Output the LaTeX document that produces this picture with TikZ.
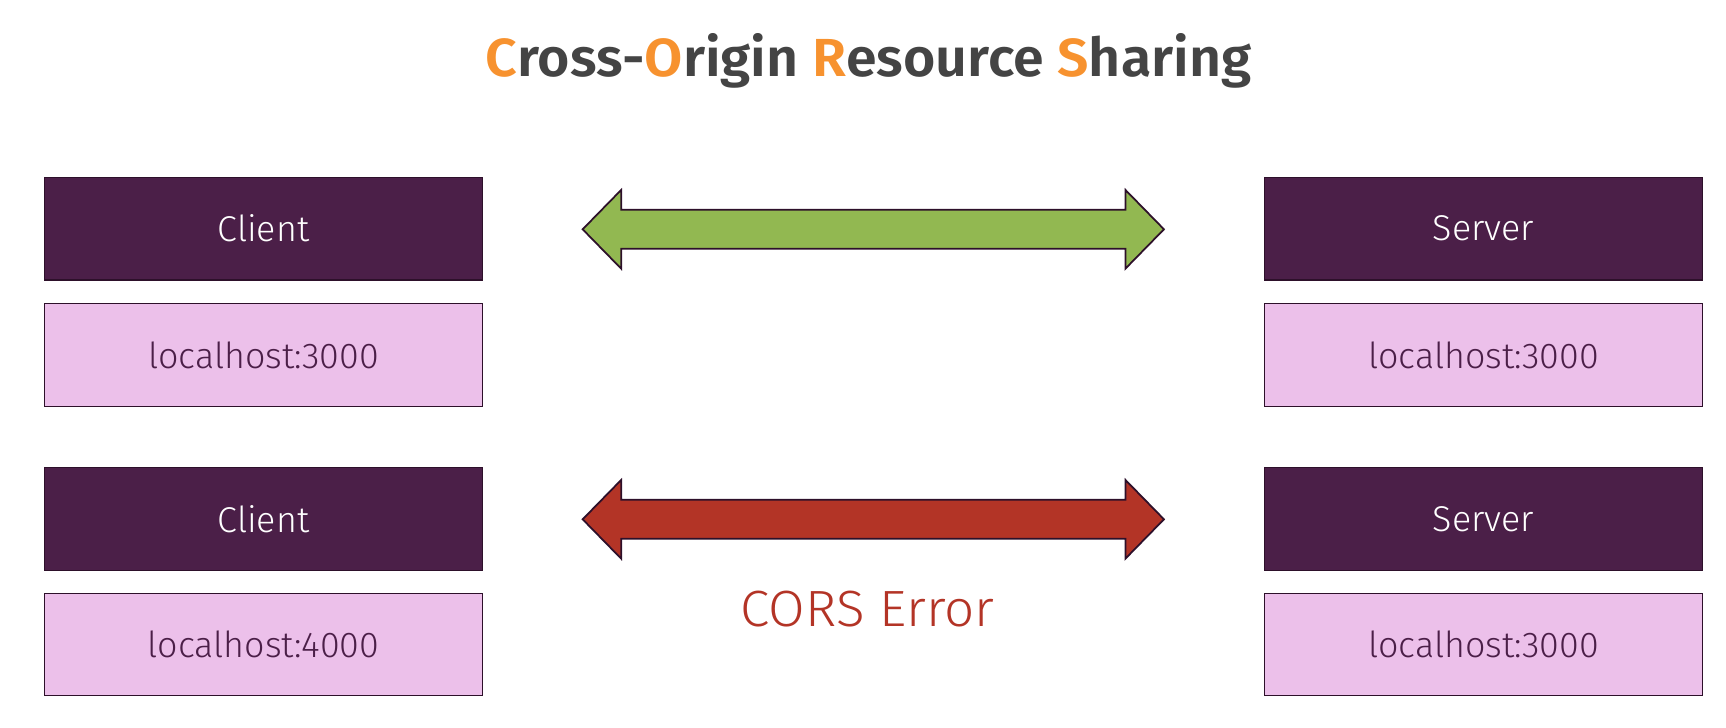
\documentclass[tikz,border=0pt]{standalone}
\usepackage{fontspec}
\setmainfont{Fira Sans Light}[BoldFont={Fira Sans SemiBold}]
\newfontfamily\narrowfont{Fira Sans Light}[FakeStretch=1.04]
\newfontfamily\headfont{Fira Sans SemiBold}[FakeStretch=1.035]
\definecolor{plum}{RGB}{75, 31, 72}
\definecolor{lilac}{RGB}{236, 192, 234}
\definecolor{edge}{RGB}{45, 16, 42}
\definecolor{leaf}{RGB}{146, 184, 81}
\definecolor{brick}{RGB}{179, 52, 38}
\definecolor{ink}{RGB}{68, 68, 68}
\definecolor{amber}{RGB}{247, 146, 47}

\tikzset{
  host/.style={draw=edge, line width=0.7pt, minimum width=8.746cm, minimum height=2.05cm,
    inner sep=0pt, font=\fontsize{20.4}{24}\selectfont},
  role/.style={host, fill=plum, text=white},
  port/.style={host, fill=lilac, text=plum},
  link/.style={draw=edge, line width=1pt},
  twoway/.pic={
    \path[pic actions] (-5.813, 0) -- (-5.043, 0.787) -- (-5.043, 0.39) -- (5.043, 0.39)
      -- (5.043, 0.787) -- (5.813, 0) -- (5.043, -0.787) -- (5.043, -0.39)
      -- (-5.043, -0.39) -- (-5.043, -0.787) -- cycle;
  }
}

\begin{document}
\begin{tikzpicture}[scale=1]
  \useasboundingbox (0, 0) rectangle (34.52, -14.56);

  \node[text=ink, anchor=base, font=\headfont\fontsize{30.5}{36}\selectfont] (title) at (17.37, -1.534)
    {\textcolor{amber}{C}ross-\textcolor{amber}{O}rigin \textcolor{amber}{R}esource \textcolor{amber}{S}haring};

  % same origin
  \node[role] (client1) at (5.27, -4.574) {Client};
  \node[port] (cport1) at (5.27, -7.10) {localhost:3000};
  \node[role] (server1) at (29.67, -4.574) {Server};
  \node[port] (sport1) at (29.67, -7.10) {localhost:3000};
  \pic[link, fill=leaf] (ok) at (17.466, -4.586) {twoway};

  % different origin
  \node[role] (client2) at (5.27, -10.38) {Client};
  \node[port] (cport2) at (5.27, -12.89) {localhost:4000};
  \node[role] (server2) at (29.67, -10.38) {Server};
  \node[port] (sport2) at (29.67, -12.89) {localhost:3000};
  \pic[link, fill=brick] (err) at (17.466, -10.386) {twoway};
  \node[brick, anchor=base, font=\narrowfont\fontsize{29}{34}\selectfont] (errlabel) at (17.35, -12.534) {CORS Error};

\end{tikzpicture}
\end{document}
